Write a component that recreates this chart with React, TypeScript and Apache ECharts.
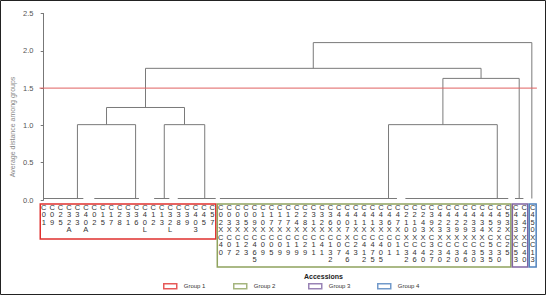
import React, { useEffect, useRef } from 'react';
import * as echarts from 'echarts';

// ---------- data ----------
const group1Labels = ['C01','C09','C25','C32A','C33','C40A','C02','C15','C17','C28','C31','C36','C40L','C12','C13','C32L','C38','C39','C403','C45','C57'];
const group2Labels = [
  'C02XC40','C03XC07','C03XC12','C05XC23','C09XC465','C10XC09','C17XC05','C17XC09','C17XC19','C24XC19',
  'C28XC29','C31XC11','C32XC41','C36XC132','C40XC07','C407XC46','C41XC23','C41XC412','C41XC475','C43XC405',
  'C46XC01','C47XC11','C210XC32','C210XC46','C243XC40','C39XC327','C423XC30','C423XC42','C429XC30','C429XC46',
  'C433XC30','C434XC53','C45XC535','C492XC30','C53XC25'
];
const group3Labels = ['C433XC53','C447XC40'];
const group4Labels = ['C450XC13'];
const accessionLabels = [...group1Labels, ...group2Labels, ...group3Labels, ...group4Labels];

const groupNames = ['Group 1','Group 2','Group 3','Group 4'];
const groupColors = ['#e0302e','#8fa35e','#8064a2','#4f81bd'];
const groupFirstLeaf = [0, 21, 56, 58];
const groupLastLeaf = [20, 55, 57, 58];

// clusters joined near zero height (leaf-order positions)
const flatIds = ['A','B','C','D','E','F','G'];
const flatStart = [0.0, 6.0, 13.1, 15.9, 20.9, 42.9, 55.9];
const flatEnd = [4.7, 11.3, 14.9, 20.4, 41.9, 55.1, 56.9];
const flatAnchor = [4.0, 10.9, 14.3, 19.1, 40.9, 53.8, 56.4];
const flatHeight = 0.02;
const singleLeafId = 'H';
const singleLeafPos = 57.9;

// merges (average distance)
const mergeIds = ['AB','CD','ABCD','EF','EFG','ABCDEFG','ROOT'];
const mergeLeft = ['A','C','AB','E','EF','ABCD','ABCDEFG'];
const mergeRight = ['B','D','CD','F','G','EFG','H'];
const mergeHeight = [1.01, 1.01, 1.24, 1.01, 1.63, 1.765, 2.11];

const yMin = 0;
const yMax = 2.5;
const yStep = 0.5;
const cutHeight = 1.5;

const FONT = 'Liberation Sans, Arial, sans-serif';

export default function App() {
  const ref = useRef<HTMLDivElement>(null);
  useEffect(() => {
    if (!ref.current) return;
    const chart = echarts.init(ref.current, undefined, { renderer: 'svg' });

    const pos: Record<string, number> = {};
    const hgt: Record<string, number> = {};
    const segs: number[][][] = [];
    flatIds.forEach((id, i) => {
      pos[id] = flatAnchor[i];
      hgt[id] = flatHeight;
      segs.push([[flatStart[i], flatHeight], [flatEnd[i], flatHeight]]);
    });
    pos[singleLeafId] = singleLeafPos;
    hgt[singleLeafId] = flatHeight;
    mergeIds.forEach((id, i) => {
      const l = mergeLeft[i], r = mergeRight[i], h = mergeHeight[i];
      segs.push([[pos[l], hgt[l]], [pos[l], h], [pos[r], h], [pos[r], hgt[r]]]);
      pos[id] = (pos[l] + pos[r]) / 2;
      hgt[id] = h;
    });

    const n = accessionLabels.length;
    const option: any = {
      animation: false,
      backgroundColor: '#fff',
      textStyle: { fontFamily: FONT },
      grid: { left: 39.5, top: 13.5, width: 497.4, height: 186.5, outerBoundsMode: 'none' },
      title: {
        text: 'Accessions', left: 304, top: 273, padding: 0,
        textStyle: { fontSize: 7, fontWeight: 'bold', color: '#222', fontFamily: FONT },
      },
      legend: groupNames.map((g, i) => ({
        data: [{ name: g, icon: 'rect', itemStyle: { color: '#fff', borderColor: groupColors[i], borderWidth: 1.5 } }],
        left: [163, 233, 308, 377][i], top: 283, padding: 0, itemWidth: 13, itemHeight: 5,
        itemGap: 0, selectedMode: false,
        textStyle: { fontSize: 6, color: '#333', fontFamily: FONT, padding: [0, 0, 0, 2] },
      })),
      xAxis: [
        { type: 'value', min: -0.5, max: n - 0.5, show: false, position: 'bottom' },
        {
          type: 'category', data: accessionLabels, position: 'bottom', boundaryGap: true,
          axisLine: { show: false }, axisTick: { show: false },
          axisLabel: {
            interval: 0, fontSize: 7.5, lineHeight: 7.5, color: '#333', margin: 3.5,
            fontFamily: FONT, align: 'center', verticalAlign: 'top',
            formatter: (v: string) => v.split('').join('\n'),
          },
        },
      ],
      yAxis: {
        type: 'value', min: yMin, max: yMax, interval: yStep,
        axisLine: { show: true, lineStyle: { color: '#777', width: 1 } },
        axisTick: { show: true, length: 3, lineStyle: { color: '#777' } },
        splitLine: { show: false },
        axisLabel: { formatter: (v: number) => v.toFixed(1), fontSize: 7.5, color: '#555', margin: 6, fontFamily: FONT },
      },
      series: [
        {
          type: 'lines', coordinateSystem: 'cartesian2d', xAxisIndex: 0, yAxisIndex: 0,
          polyline: true, silent: true,
          lineStyle: { color: '#7a7a7a', width: 1, opacity: 1 },
          data: segs.map((c) => ({ coords: c })),
        },
        {
          type: 'line', xAxisIndex: 0, yAxisIndex: 0, symbol: 'none', silent: true,
          lineStyle: { color: '#e06060', width: 1 },
          data: [[-0.5, cutHeight], [n - 0.5, cutHeight]],
        },
        ...groupNames.map((g, i) => ({
          type: 'scatter', name: g, xAxisIndex: 0, yAxisIndex: 0, data: [],
          itemStyle: { color: groupColors[i] },
        })),
      ],
    };
    chart.setOption(option);

    const px = (u: number) => chart.convertToPixel({ xAxisIndex: 0 }, u) as number;
    const boxBottoms = [239, 267, 267, 267];
    const boxes = groupNames.map((g, i) => {
      const x0 = px(groupFirstLeaf[i] - 0.5) + 0.75;
      const x1 = px(groupLastLeaf[i] + 0.5) - 0.75;
      return {
        type: 'rect', silent: true,
        shape: { x: x0, y: 204, width: x1 - x0, height: boxBottoms[i] - 204 },
        style: { fill: 'none', stroke: groupColors[i], lineWidth: 1.5 },
      };
    });
    chart.setOption({
      graphic: {
        elements: [
          ...boxes,
          {
            type: 'text', x: 12, y: 127, rotation: Math.PI / 2, silent: true,
            style: { text: 'Average distance among groups', align: 'center', verticalAlign: 'middle', fontSize: 7, fill: '#888', fontFamily: FONT },
          },
          {
            type: 'rect', silent: true, z: 100,
            shape: { x: 0.5, y: 0.5, width: 545, height: 294 },
            style: { fill: 'none', stroke: '#222', lineWidth: 1 },
          },
        ],
      },
    });
    return () => chart.dispose();
  }, []);
  return <div ref={ref} style={{ position: 'fixed', left: 0, top: 0, width: 546, height: 295, background: '#fff' }} />;
}
